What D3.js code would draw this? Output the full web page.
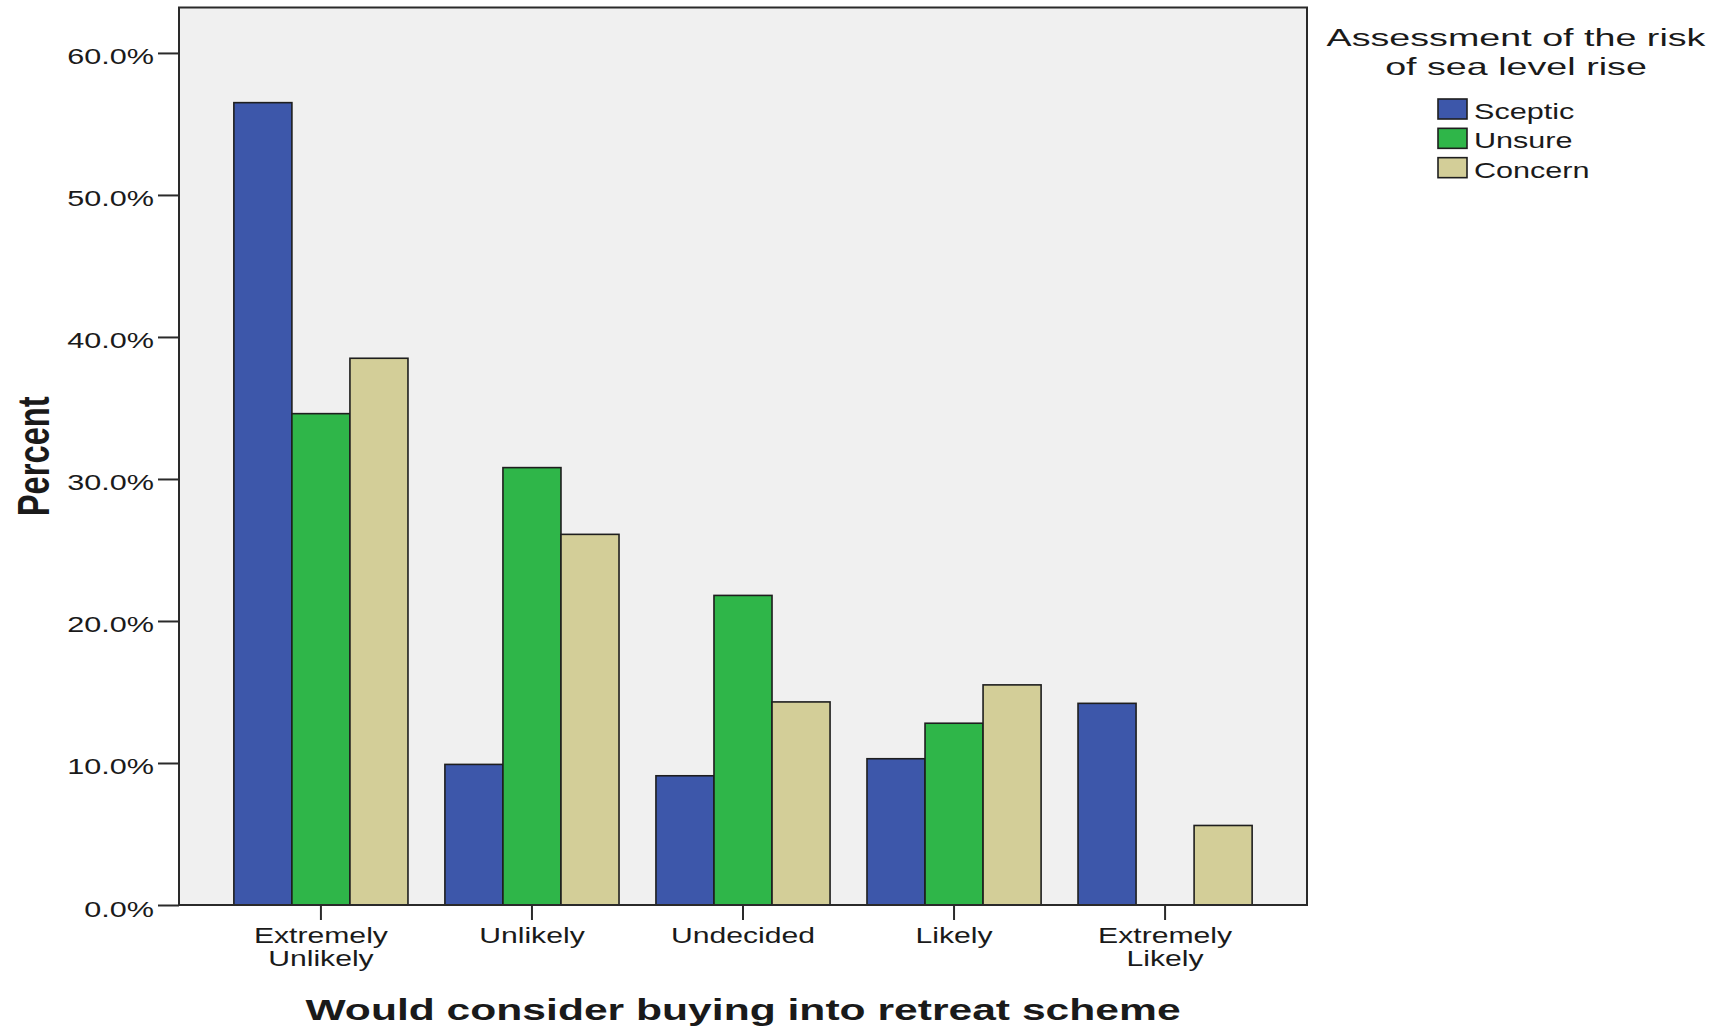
<!DOCTYPE html>
<html>
<head>
<meta charset="utf-8">
<script src="https://cdn.jsdelivr.net/npm/d3@7"></script>
<style>
  html, body { margin: 0; padding: 0; background: #ffffff; }
  svg { display: block; }
  text { font-family: "Liberation Sans", Arial, sans-serif; fill: #1a1a1a; }
</style>
</head>
<body>
<svg id="chart" width="1731" height="1029"></svg>
<script>
// ---- data ----
const categories = ["Extremely Unlikely", "Unlikely", "Undecided", "Likely", "Extremely Likely"];
const categoryLabels = [["Extremely", "Unlikely"], ["Unlikely"], ["Undecided"], ["Likely"], ["Extremely", "Likely"]];
const seriesNames = ["Sceptic", "Unsure", "Concern"];
const scepticValues = [56.5, 9.9, 9.1, 10.3, 14.2];
const unsureValues  = [34.6, 30.8, 21.8, 12.8, 0.0];
const concernValues = [38.5, 26.1, 14.3, 15.5, 5.6];
const yTickValues = [0, 10, 20, 30, 40, 50, 60];
const legendTitleLines = ["Assessment of the risk", "of sea level rise"];
const xTitle = "Would consider buying into retreat scheme";
const yTitle = "Percent";
const colors = ["#3d57aa", "#2fb649", "#d3ce98"];

const seriesValues = [scepticValues, unsureValues, concernValues];
const rows = categories.map((c, i) => ({
  cat: c,
  vals: seriesNames.map((s, j) => ({ series: s, value: seriesValues[j][i], color: colors[j] }))
}));

// ---- layout ----
const plot = { left: 179, right: 1307, top: 7.5, bottom: 905 };
const SX = 1.39; // horizontal stretch of the original glyphs

const svg = d3.select("#chart");

const x = d3.scaleBand().domain(categories).range([plot.left, plot.right])
  .paddingInner(0.175).paddingOuter(0.26);
const xi = d3.scaleBand().domain(seriesNames).range([0, x.bandwidth()]).padding(0);
const y = d3.scaleLinear().domain([0, 63.2]).range([plot.bottom, plot.top]);

// plot background
svg.append("rect")
  .attr("x", plot.left).attr("y", plot.top)
  .attr("width", plot.right - plot.left).attr("height", plot.bottom - plot.top)
  .attr("fill", "#f0f0f0");

// bars
const groups = svg.append("g").selectAll("g").data(rows).join("g")
  .attr("transform", d => `translate(${x(d.cat)},0)`);
groups.selectAll("rect").data(d => d.vals).join("rect")
  .attr("x", d => xi(d.series))
  .attr("y", d => y(d.value))
  .attr("width", xi.bandwidth())
  .attr("height", d => y(0) - y(d.value))
  .attr("fill", d => d.color)
  .attr("stroke", d => d.value > 0 ? "#1e1e1e" : "none")
  .attr("stroke-width", 1.6);

// frame
svg.append("rect")
  .attr("x", plot.left).attr("y", plot.top)
  .attr("width", plot.right - plot.left).attr("height", plot.bottom - plot.top)
  .attr("fill", "none").attr("stroke", "#2a2a2a").attr("stroke-width", 2);

// y axis
const yAxis = svg.append("g").attr("transform", `translate(${plot.left},0)`)
  .call(d3.axisLeft(y).tickValues(yTickValues).tickSize(21).tickPadding(0)
    .tickFormat(d => d3.format(".1f")(d) + "%"));
yAxis.select(".domain").remove();
yAxis.selectAll(".tick line").attr("stroke", "#2a2a2a").attr("stroke-width", 2);
yAxis.selectAll(".tick text").each(function () {
  const t = d3.select(this);
  t.attr("x", null).attr("dy", null)
   .attr("text-anchor", "end")
   .attr("font-size", 22)
   .attr("font-family", "'Liberation Sans', Arial, sans-serif")
   .attr("fill", "#222")
   .attr("transform", `translate(-25,11) scale(${SX},1)`);
});

// x axis
const xAxis = svg.append("g").attr("transform", `translate(0,${plot.bottom})`)
  .call(d3.axisBottom(x).tickSize(15).tickFormat(""));
xAxis.select(".domain").remove();
xAxis.selectAll(".tick line").attr("stroke", "#2a2a2a").attr("stroke-width", 2);
xAxis.selectAll(".tick").each(function (d, i) {
  const g = d3.select(this);
  g.select("text").remove();
  const t = g.append("text")
    .attr("text-anchor", "middle")
    .attr("font-size", 22)
    .attr("fill", "#222")
    .attr("transform", `translate(0,38) scale(1.37,1)`);
  categoryLabels[i].forEach((line, k) => {
    t.append("tspan").attr("x", 0).attr("y", k * 23).text(line);
  });
});

// axis titles
svg.append("text")
  .attr("text-anchor", "middle")
  .attr("font-weight", "bold")
  .attr("font-size", 29)
  .attr("fill", "#111")
  .attr("transform", `translate(${(plot.left + plot.right) / 2},1020) scale(1.47,1)`)
  .text(xTitle);

svg.append("text")
  .attr("text-anchor", "middle")
  .attr("font-weight", "bold")
  .attr("font-size", 28)
  .attr("fill", "#111")
  .attr("textLength", 120)
  .attr("lengthAdjust", "spacingAndGlyphs")
  .attr("transform", `translate(49,${(plot.top + plot.bottom) / 2}) scale(1.6,1) rotate(-90)`)
  .text(yTitle);

// legend
const legend = svg.append("g");
legendTitleLines.forEach((line, k) => {
  legend.append("text")
    .attr("text-anchor", "middle")
    .attr("font-size", 24)
    .attr("fill", "#222")
    .attr("transform", `translate(1516,${46 + k * 29}) scale(1.57,1)`)
    .text(line);
});
const legendScale = d3.scaleBand().domain(seriesNames).range([99, 187]);
const items = legend.selectAll("g.item").data(seriesNames).join("g").attr("class", "item")
  .attr("transform", d => `translate(1438,${legendScale(d)})`);
items.append("rect")
  .attr("width", 29).attr("height", 20)
  .attr("fill", (d, i) => colors[i])
  .attr("stroke", "#1e1e1e").attr("stroke-width", 1.6);
items.append("text")
  .attr("font-size", 22)
  .attr("fill", "#222")
  .attr("transform", `translate(36,20) scale(${SX},1)`)
  .text(d => d);
</script>
</body>
</html>
